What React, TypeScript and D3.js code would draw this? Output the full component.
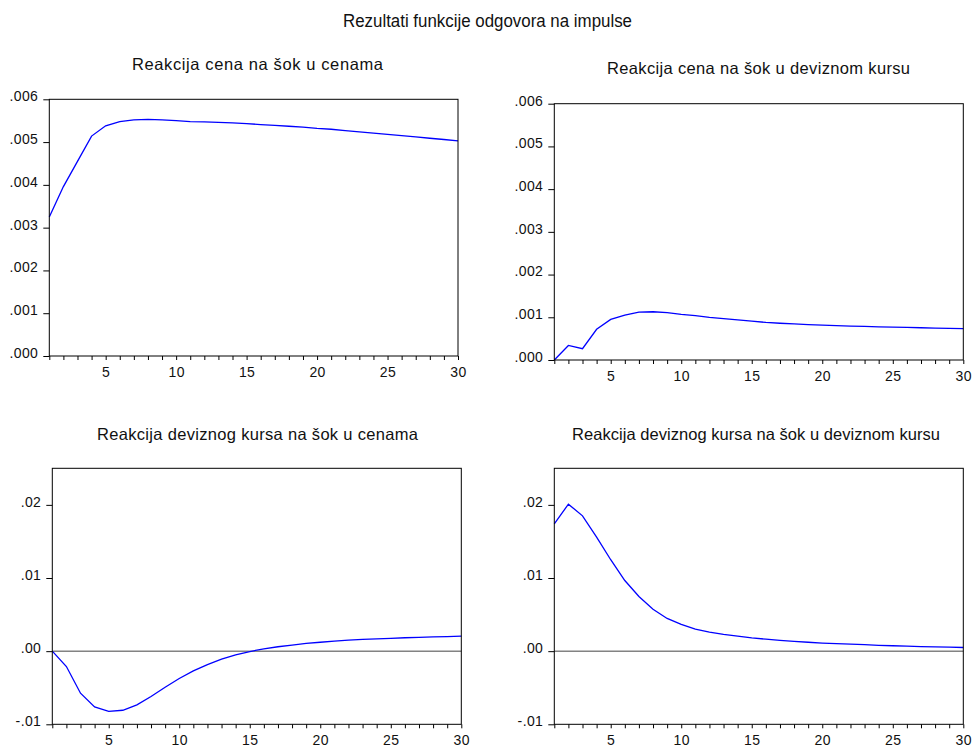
import { useEffect, useRef } from 'react';
import * as d3 from 'd3';

// ── data (impulse responses, periods 1..30) ──
const periods = [1, 2, 3, 4, 5, 6, 7, 8, 9, 10, 11, 12, 13, 14, 15, 16, 17, 18, 19, 20, 21, 22, 23, 24, 25, 26, 27, 28, 29, 30];

const cenaNaCene = [
  0.00325, 0.00396, 0.00455, 0.00514, 0.00538, 0.00548, 0.00552, 0.00553, 0.00552, 0.0055,
  0.00548, 0.00547, 0.00546, 0.00545, 0.00543, 0.00541, 0.00539, 0.00537, 0.00535, 0.00532,
  0.0053, 0.00527, 0.00524, 0.00521, 0.00518, 0.00515, 0.00512, 0.00509, 0.00506, 0.00503,
];
const cenaNaKurs = [
  0.0, 0.00034, 0.000265, 0.00072, 0.00095, 0.00105, 0.00112, 0.00113, 0.00111, 0.00107,
  0.00104, 0.001, 0.00097, 0.00094, 0.00091, 0.00088, 0.00086, 0.000845, 0.00083, 0.000815,
  0.000805, 0.000795, 0.000785, 0.000777, 0.00077, 0.000762, 0.000755, 0.000748, 0.00074, 0.000733,
];
const kursNaCene = [
  0.0, -0.0021, -0.00575, -0.00763, -0.00822, -0.00808, -0.00735, -0.0062, -0.00493, -0.00374,
  -0.0027, -0.00183, -0.0011, -0.0005, -0.00005, 0.00032, 0.0006, 0.00082, 0.00105, 0.00122,
  0.00137, 0.0015, 0.0016, 0.00168, 0.00176, 0.00183, 0.00189, 0.00195, 0.002, 0.00205,
];
const kursNaKurs = [
  0.0174, 0.0201, 0.0185, 0.0156, 0.0125, 0.00966, 0.00747, 0.00574, 0.00447, 0.00365,
  0.003, 0.0026, 0.00228, 0.00205, 0.00182, 0.00164, 0.00148, 0.00134, 0.00122, 0.0011,
  0.00102, 0.00095, 0.00088, 0.0008, 0.00074, 0.00068, 0.00063, 0.00058, 0.00054, 0.0005,
];

const xLabelTicks = [5, 10, 15, 20, 25, 30];
const yTicksTop = [0, 0.001, 0.002, 0.003, 0.004, 0.005, 0.006];
const yLabelsTop = ['.000', '.001', '.002', '.003', '.004', '.005', '.006'];
const yTicksBottom = [-0.01, 0, 0.01, 0.02];
const yLabelsBottom = ['-.01', '.00', '.01', '.02'];

const mainTitle = 'Rezultati funkcije odgovora na impulse';
const panelTitles = [
  'Reakcija cena na šok u cenama',
  'Reakcija cena na šok u deviznom kursu',
  'Reakcija deviznog kursa na šok u cenama',
  'Reakcija deviznog kursa na šok u deviznom kursu',
];

const font = "'Liberation Sans', Arial, Helvetica, sans-serif";
const W = 973, H = 747;

export default function App() {
  const svgRef = useRef<SVGSVGElement>(null);

  useEffect(() => {
    if (!svgRef.current) return;
    const svg = d3.select(svgRef.current);
    svg.selectAll('*').remove();
    svg.append('rect').attr('width', W).attr('height', H).attr('fill', '#fff');

    svg.append('text').attr('x', 487.5).attr('y', 27).attr('text-anchor', 'middle')
      .attr('font-family', font).attr('font-size', 17.5).attr('fill', '#111')
      .attr('textLength', 289).attr('lengthAdjust', 'spacingAndGlyphs').text(mainTitle);

    const panels = [
      { title: panelTitles[0], values: cenaNaCene, domain: [0, 0.006], ticks: yTicksTop, labels: yLabelsTop,
        box: { l: 49.3, r: 458, t: 99.3, b: 356 }, tx: 257.5, ty: 69.5, tl: 251, zero: false },
      { title: panelTitles[1], values: cenaNaKurs, domain: [0, 0.006], ticks: yTicksTop, labels: yLabelsTop,
        box: { l: 554.3, r: 963.3, t: 103.7, b: 360 }, tx: 758.5, ty: 74, tl: 303, zero: false },
      { title: panelTitles[2], values: kursNaCene, domain: [-0.01, 0.025], ticks: yTicksBottom, labels: yLabelsBottom,
        box: { l: 52.3, r: 461.3, t: 468.3, b: 724.3 }, tx: 257.5, ty: 440, tl: 321, zero: true },
      { title: panelTitles[3], values: kursNaKurs, domain: [-0.01, 0.025], ticks: yTicksBottom, labels: yLabelsBottom,
        box: { l: 554.3, r: 963.3, t: 468.3, b: 724.3 }, tx: 756, ty: 440, tl: 368, zero: true },
    ];

    panels.forEach(p => {
      const { l, r, t, b } = p.box;
      const x = d3.scaleLinear().domain([1, 30]).range([l, r]);
      const y = d3.scaleLinear().domain(p.domain).range([b, t]);
      const g = svg.append('g');

      g.append('text').attr('x', p.tx).attr('y', p.ty).attr('text-anchor', 'middle')
        .attr('font-family', font).attr('font-size', 16.5).attr('fill', '#111')
        .attr('textLength', p.tl).text(p.title);

      if (p.zero) {
        g.append('line').attr('x1', l).attr('x2', r).attr('y1', y(0)).attr('y2', y(0))
          .attr('stroke', '#444').attr('stroke-width', 1);
      }

      const line = d3.line<number>().x((_, i) => x(periods[i])).y(d => y(d));
      g.append('path').datum(p.values).attr('fill', 'none').attr('stroke', '#0000ff')
        .attr('stroke-width', 1.3).attr('d', line);

      g.append('rect').attr('x', l).attr('y', t).attr('width', r - l).attr('height', b - t)
        .attr('fill', 'none').attr('stroke', '#000').attr('stroke-width', 1);

      const styleAx = (ax: any) => {
        ax.select('.domain').remove();
        ax.selectAll('line').attr('stroke', '#000');
        ax.selectAll('text').attr('fill', '#111').attr('font-family', font)
          .attr('font-size', 14).attr('letter-spacing', '0.4px');
      };

      g.append('g').attr('transform', `translate(0,${b})`)
        .call(d3.axisBottom(x).tickValues(periods).tickSize(4).tickPadding(7)
          .tickFormat(d => (xLabelTicks.includes(+d) ? String(d) : '')))
        .call(styleAx);

      g.append('g').attr('transform', `translate(${l},0)`)
        .call(d3.axisLeft(y).tickValues(p.ticks).tickSize(6).tickPadding(5)
          .tickFormat((_, i) => p.labels[i]))
        .call(styleAx)
        .call(ax => ax.selectAll('text').attr('dy', '0.1em'));
    });
  }, []);

  return (
    <svg ref={svgRef} width={W} height={H}
      style={{ position: 'absolute', left: 0, top: 0, display: 'block' }} />
  );
}
